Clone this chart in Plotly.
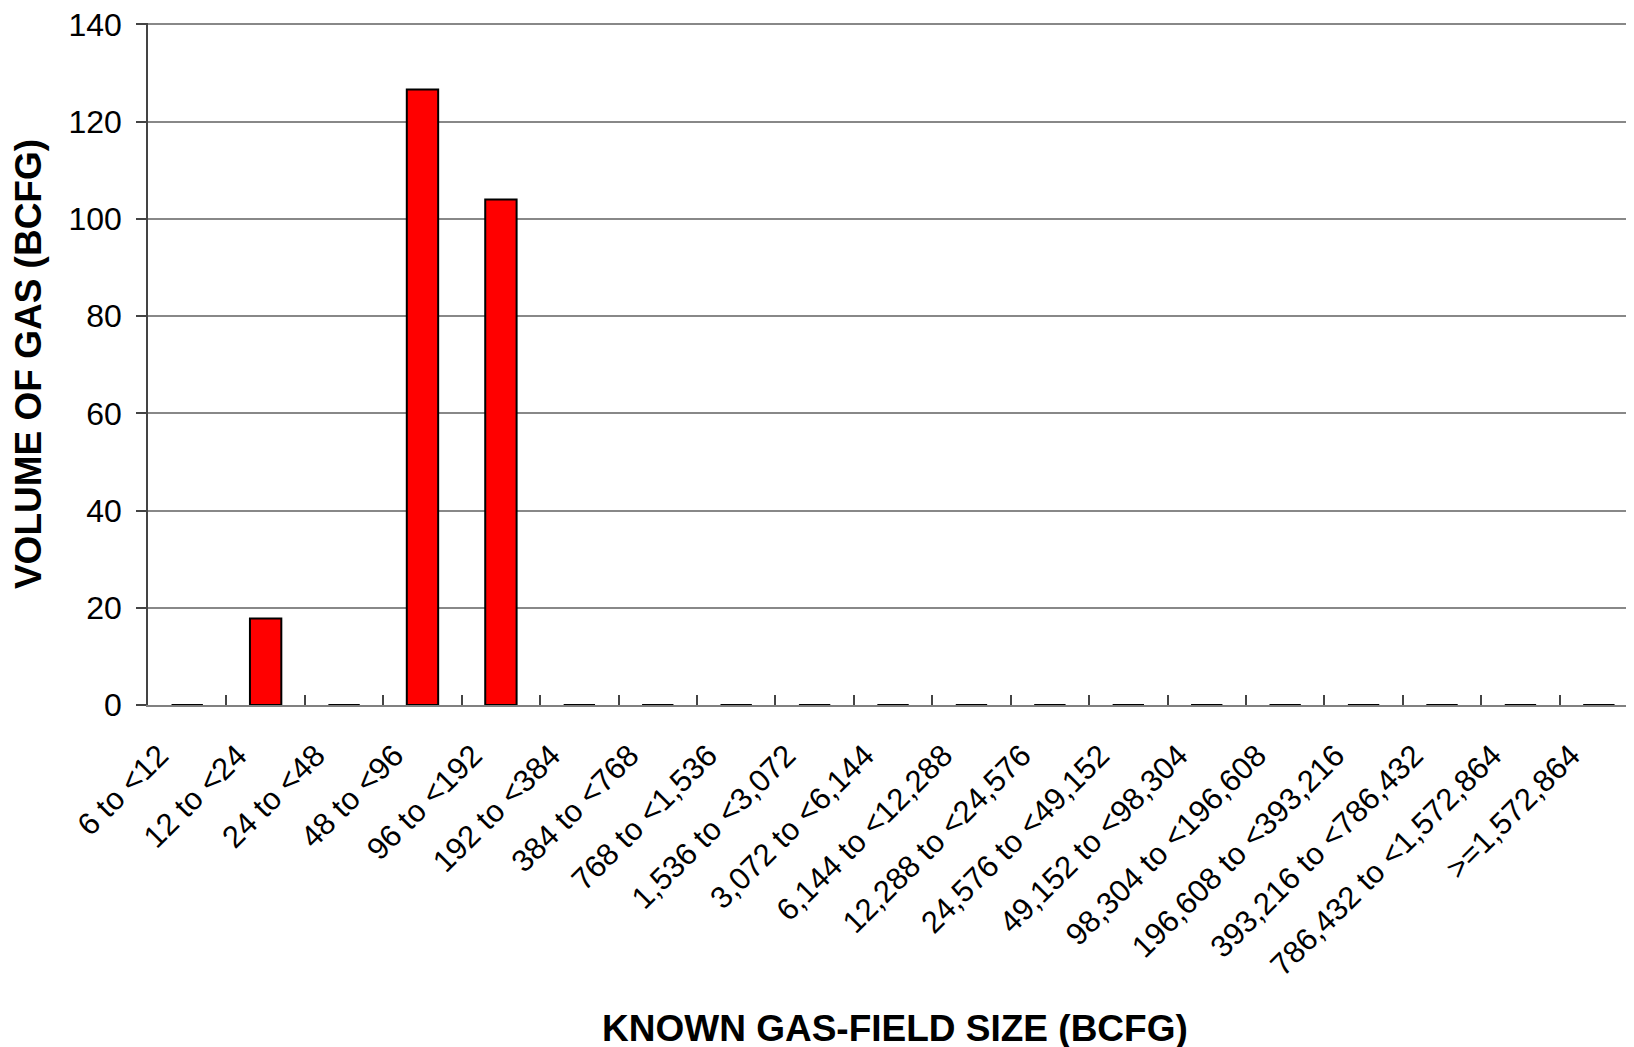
import plotly.graph_objects as go

size_classes = [
    "6 to <12", "12 to <24", "24 to <48", "48 to <96", "96 to <192",
    "192 to <384", "384 to <768", "768 to <1,536", "1,536 to <3,072",
    "3,072 to <6,144", "6,144 to <12,288", "12,288 to <24,576",
    "24,576 to <49,152", "49,152 to <98,304", "98,304 to <196,608",
    "196,608 to <393,216", "393,216 to <786,432", "786,432 to <1,572,864",
    ">=1,572,864",
]
gas_volume = [0, 17.8, 0, 126.6, 104.0, 0, 0, 0, 0, 0, 0, 0, 0, 0, 0, 0, 0, 0, 0]
y_ticks = [0, 20, 40, 60, 80, 100, 120, 140]

FONT = "Liberation Sans, Arial, sans-serif"

fig = go.Figure(
    go.Bar(
        x=size_classes,
        y=gas_volume,
        marker=dict(color="#ff0000", line=dict(color="black", width=2)),
        width=0.4,
    )
)

# page body adds 8px, so margins are trimmed by that much
fig.update_layout(
    width=1634,
    height=1047,
    plot_bgcolor="white",
    paper_bgcolor="white",
    showlegend=False,
    margin=dict(l=140, r=0, t=15, b=350),
    font=dict(family=FONT, size=30, color="black"),
)

fig.update_xaxes(
    type="category",
    range=[-0.5, 18.55],
    tickangle=-45,
    ticks="inside",
    tickson="boundaries",
    ticklen=10,
    tickwidth=1.5,
    tickcolor="#444444",
    ticklabelstandoff=18,
    ticklabelshift=-28,
    showline=True,
    linecolor="#808080",
    linewidth=2,
    showgrid=False,
    tickfont=dict(size=31),
    automargin=False,
)

# x title as annotation, axis title placement would not move far enough
fig.add_annotation(
    text="<b>KNOWN GAS-FIELD SIZE (BCFG)</b>",
    xref="paper", yref="paper",
    x=0.5, y=-0.474,
    xanchor="center", yanchor="middle",
    showarrow=False,
    font=dict(size=37),
)

fig.update_yaxes(
    range=[0, 140.3],
    tickvals=y_ticks,
    ticks="outside",
    ticklen=10,
    tickwidth=1.5,
    tickcolor="#444444",
    ticklabelstandoff=8,
    ticklabeloverflow="allow",
    showline=True,
    linecolor="#444444",
    linewidth=1.5,
    showgrid=True,
    gridcolor="#888888",
    gridwidth=2,
    zeroline=False,
    tickfont=dict(size=32),
    title=dict(
        text="<b>VOLUME OF GAS (BCFG)</b>",
        font=dict(size=37),
        standoff=20,
    ),
    automargin=False,
)

fig.write_html("out.html")
